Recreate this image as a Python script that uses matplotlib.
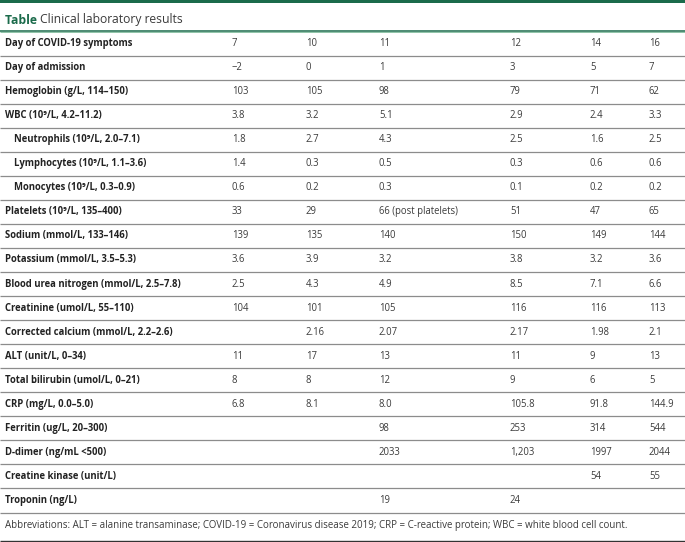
import matplotlib
matplotlib.use('Agg')
import matplotlib.pyplot as plt
import matplotlib.transforms as mtransforms
from matplotlib import font_manager as fm

# 去掉可变字体，使用静态 Open Sans
fm.fontManager.ttflist = [f for f in fm.fontManager.ttflist if '[' not in f.fname]
plt.rcParams['font.family'] = ['Open Sans', 'DejaVu Sans']

# 表格数据
title_bold = 'Table'
title_text = 'Clinical laboratory results'

row_labels = [
    'Day of COVID-19 symptoms',
    'Day of admission',
    'Hemoglobin (g/L, 114–150)',
    'WBC (10⁹/L, 4.2–11.2)',
    'Neutrophils (10⁹/L, 2.0–7.1)',
    'Lymphocytes (10⁹/L, 1.1–3.6)',
    'Monocytes (10⁹/L, 0.3–0.9)',
    'Platelets (10⁹/L, 135–400)',
    'Sodium (mmol/L, 133–146)',
    'Potassium (mmol/L, 3.5–5.3)',
    'Blood urea nitrogen (mmol/L, 2.5–7.8)',
    'Creatinine (umol/L, 55–110)',
    'Corrected calcium (mmol/L, 2.2–2.6)',
    'ALT (unit/L, 0–34)',
    'Total bilirubin (umol/L, 0–21)',
    'CRP (mg/L, 0.0–5.0)',
    'Ferritin (ug/L, 20–300)',
    'D-dimer (ng/mL <500)',
    'Creatine kinase (unit/L)',
    'Troponin (ng/L)',
]
indented = [False, False, False, False, True, True, True] + [False] * 13

col1 = ['7', '−2', '103', '3.8', '1.8', '1.4', '0.6', '33', '139', '3.6', '2.5', '104', '', '11', '8', '6.8', '', '', '', '']
col2 = ['10', '0', '105', '3.2', '2.7', '0.3', '0.2', '29', '135', '3.9', '4.3', '101', '2.16', '17', '8', '8.1', '', '', '', '']
col3 = ['11', '1', '98', '5.1', '4.3', '0.5', '0.3', '66 (post platelets)', '140', '3.2', '4.9', '105', '2.07', '13', '12', '8.0', '98', '2033', '', '19']
col4 = ['12', '3', '79', '2.9', '2.5', '0.3', '0.1', '51', '150', '3.8', '8.5', '116', '2.17', '11', '9', '105.8', '253', '1,203', '', '24']
col5 = ['14', '5', '71', '2.4', '1.6', '0.6', '0.2', '47', '149', '3.2', '7.1', '116', '1.98', '9', '6', '91.8', '314', '1997', '54', '']
col6 = ['16', '7', '62', '3.3', '2.5', '0.6', '0.2', '65', '144', '3.6', '6.6', '113', '2.1', '13', '5', '144.9', '544', '2044', '55', '']
columns = [col1, col2, col3, col4, col5, col6]

footnote = ('Abbreviations: ALT = alanine transaminase; COVID-19 = Coronavirus disease 2019; '
            'CRP = C-reactive protein; WBC = white blood cell count.')

# 布局
W, H = 685, 542
col_x = [232, 306, 379, 510, 590, 649]
top = 31.5
row_h = 24.05
green = '#1b6b4b'
grey = '#8c8c8c'
txt = '#3a3a3a'

fig = plt.figure(figsize=(W / 100, H / 100), dpi=100)
ax = fig.add_axes([0, 0, 1, 1])
ax.set_xlim(0, W)
ax.set_ylim(H, 0)
ax.axis('off')

# 顶部绿色条
ax.fill_between([0, W], 0, 3.2, color=green, lw=0)

# 标题
t = ax.text(5, 20, title_bold + ' ', fontsize=8.7, fontweight='bold', color=green, va='center')
fig.canvas.draw()
x_end = t.get_window_extent().x1
ax.text(x_end, 20, title_text, fontsize=8.7, color=txt, va='center',
        transform=mtransforms.blended_transform_factory(mtransforms.IdentityTransform(), ax.transData))

ax.plot([0, W], [top - 0.8, top - 0.8], color=green, lw=1.1, solid_capstyle='butt')
ax.plot([0, W], [top + 0.5, top + 0.5], color='#8fc4a8', lw=0.7, solid_capstyle='butt')

# 表格行
for i, label in enumerate(row_labels):
    yc = top + row_h * (i + 0.5)
    xl = 14 if indented[i] else 5
    ax.text(xl, yc, label, fontsize=6.85, fontweight='bold', color='#222222', va='center')
    for j, col in enumerate(columns):
        if col[i]:
            ax.text(col_x[j], yc, col[i], fontsize=6.85, color=txt, va='center')
    yb = top + row_h * (i + 1)
    ax.plot([0, W], [yb, yb], color=grey, lw=0.9, solid_capstyle='butt')

# 脚注
y_foot = top + row_h * len(row_labels) + 13
ax.text(5, y_foot, footnote, fontsize=7.0, color=txt, va='center')
ax.plot([0, W], [540.5, 540.5], color='#333333', lw=1.0, solid_capstyle='butt')

fig.savefig('out.png', dpi=100)
